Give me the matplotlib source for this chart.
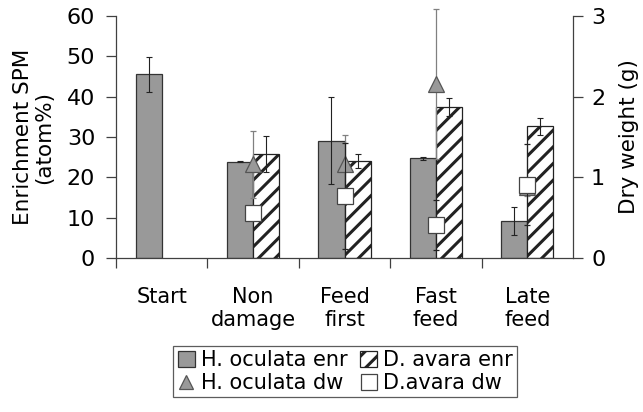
import matplotlib
matplotlib.use("Agg")
import matplotlib.pyplot as plt
from matplotlib.lines import Line2D
from matplotlib.patches import Patch
import numpy as np

# Treatment groups
categories = ["Start", "Non\ndamage", "Feed\nfirst", "Fast\nfeed", "Late\nfeed"]

# Enrichment of SPM (atom%) with error
h_oculata_enr = [45.5, 23.9, 29.1, 24.7, 9.2]
h_oculata_enr_err = [4.3, 0.2, 10.8, 0.3, 3.5]
d_avara_enr = [np.nan, 25.8, 24.1, 37.4, 32.7]
d_avara_enr_err = [np.nan, 4.4, 1.8, 2.3, 2.1]

# Dry weight (g) with error
h_oculata_dw = [np.nan, 1.16, 1.17, 2.16, 0.88]
h_oculata_dw_err = [np.nan, 0.42, 0.35, 0.93, 0.11]
d_avara_dw = [np.nan, 0.56, 0.77, 0.41, 0.91]
d_avara_dw_err = [np.nan, 0.08, 0.66, 0.31, 0.50]

left_ticks = [0, 10, 20, 30, 40, 50, 60]
right_ticks = [0, 1, 2, 3]

plt.rcParams["font.family"] = ["DejaVu Sans"]
plt.rcParams["hatch.linewidth"] = 2.2
plt.rcParams["hatch.color"] = "black"

W, H = 643, 412
fig = plt.figure(figsize=(W / 100, H / 100), dpi=100)
ax = fig.add_axes([116 / W, 1 - 258 / H, (573 - 116) / W, (258 - 16) / H])

axis_col = "#404040"
fs = 15
fs_tick = 16

x = np.arange(len(categories)) + 0.5
bw = 0.285

ax.bar(x - bw / 2, h_oculata_enr, bw, color="#999999", edgecolor="#333333",
       linewidth=0.9, zorder=2)
ax.bar(x + bw / 2, d_avara_enr, bw, color="white", edgecolor="#222222",
       linewidth=0.9, hatch="//", zorder=2)
ax.errorbar(x - bw / 2, h_oculata_enr, yerr=h_oculata_enr_err, fmt="none",
            ecolor="#222222", elinewidth=0.8, capsize=2.5, capthick=0.8, zorder=3)
ax.errorbar(x + bw / 2, d_avara_enr, yerr=d_avara_enr_err, fmt="none",
            ecolor="#222222", elinewidth=0.8, capsize=2.5, capthick=0.8, zorder=3)

ax.set_xlim(0, len(categories))
ax.set_ylim(0, 60)
ax.set_yticks(left_ticks)
ax.set_xticks(np.arange(len(categories)))
ax.set_xticklabels([])
ax.set_xticks(x, minor=True)
ax.set_xticklabels(categories, minor=True, fontsize=fs)
ax.tick_params(axis="x", which="major", length=7, width=0.9, color=axis_col,
               direction="out")
ax.tick_params(axis="x", which="minor", length=0, pad=21)
ax.tick_params(axis="y", length=7, width=0.9, color=axis_col,
               labelsize=fs_tick, pad=8)
ax.spines["top"].set_visible(False)
ax.spines["right"].set_visible(False)
for s in ("left", "bottom"):
    ax.spines[s].set_color(axis_col)
    ax.spines[s].set_linewidth(0.9)
ax.set_ylabel("Enrichment SPM\n(atom%)", fontsize=15.5, labelpad=9,
              multialignment="center", linespacing=1.05)

ax2 = ax.twinx()
ax2.set_ylim(0, 3)
ax2.set_yticks(right_ticks)
ax2.tick_params(axis="y", length=7, width=0.9, color=axis_col,
                labelsize=fs_tick, pad=6)
for s in ("top", "left", "bottom"):
    ax2.spines[s].set_visible(False)
ax2.spines["right"].set_color(axis_col)
ax2.spines["right"].set_linewidth(0.9)
ax2.set_ylabel("Dry weight (g)", fontsize=15.5, labelpad=10)

eb1 = ax2.errorbar(x, h_oculata_dw, yerr=h_oculata_dw_err, fmt="^",
                   color="#808080", mfc="#999999", mec="#555555", ms=11,
                   mew=0.9, elinewidth=0.9, capsize=2.5, capthick=0.9,
                   zorder=4)
for art in list(eb1.lines[1]) + list(eb1.lines[2]):
    art.set_clip_on(False)
eb2 = ax2.errorbar(x, d_avara_dw, yerr=d_avara_dw_err, fmt="s",
                   color="#222222", mfc="white", mec="#444444", ms=11,
                   mew=0.9, elinewidth=0.8, capsize=2.5, capthick=0.8,
                   zorder=5)

handles = [
    Patch(facecolor="#999999", edgecolor="#333333", linewidth=0.9),
    Line2D([], [], marker="^", linestyle="none", mfc="#999999",
           mec="#555555", ms=10, mew=0.9),
    Patch(facecolor="white", edgecolor="#222222", hatch="//", linewidth=0.9),
    Line2D([], [], marker="s", linestyle="none", mfc="white",
           mec="#444444", ms=11, mew=0.9),
]
labels = ["H. oculata enr", "H. oculata dw", "D. avara enr", "D.avara dw"]
leg = fig.legend(handles, labels, ncol=2, loc="upper center",
                 bbox_to_anchor=(345 / W, 1 - 346 / H), fontsize=fs,
                 frameon=True, fancybox=False, edgecolor="#333333",
                 handlelength=0.85, handleheight=0.85, handletextpad=0.25,
                 columnspacing=0.6, labelspacing=0.15, borderpad=0.2,
                 borderaxespad=0)
leg.get_frame().set_linewidth(0.9)

fig.savefig("out.png", dpi=100)
